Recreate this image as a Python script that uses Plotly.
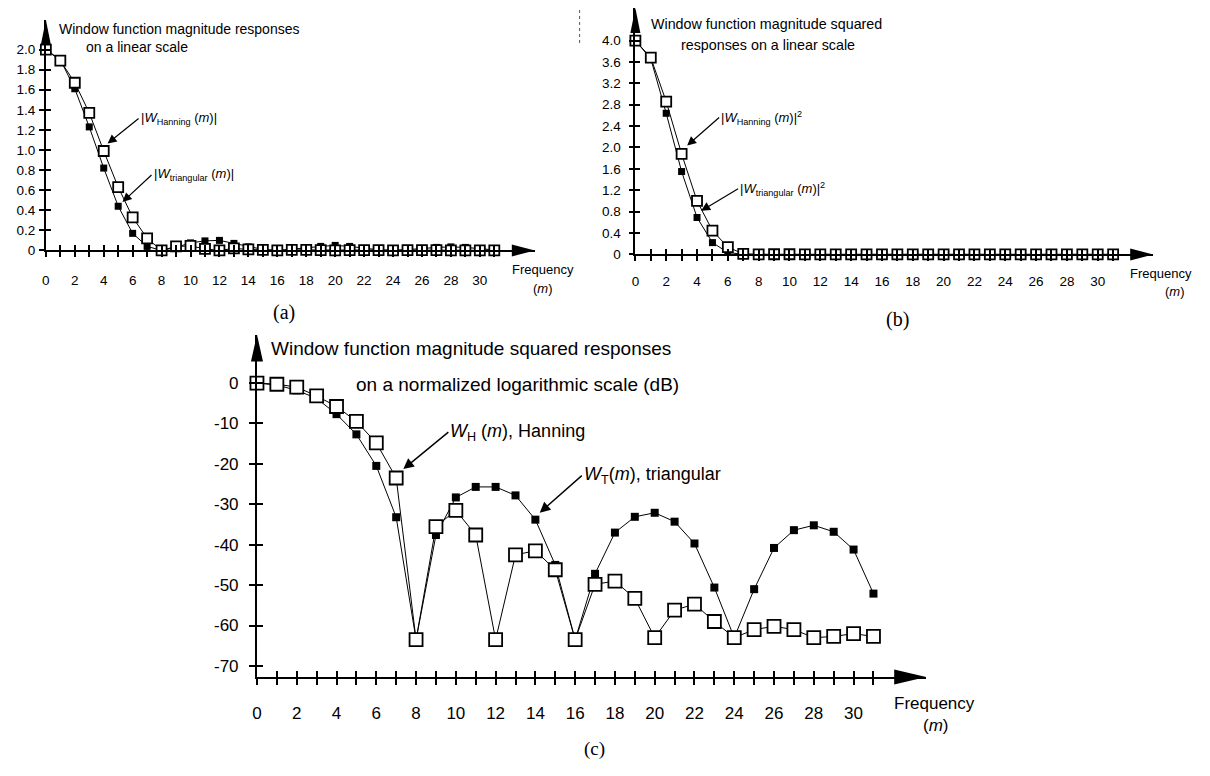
import plotly.graph_objects as go

# ---------------- data ----------------
m = list(range(32))

a_hanning = [2.0, 1.89, 1.67, 1.37, 0.99, 0.63, 0.33, 0.12, 0.0, 0.04, 0.045, 0.015,
             0.0, 0.02, 0.01, 0.005, 0.0, 0.005, 0.005, 0.003, 0.0, 0.003, 0.003, 0.002,
             0.0, 0.002, 0.002, 0.002, 0.0, 0.001, 0.001, 0.001]
a_triangular = [2.0, 1.9, 1.61, 1.23, 0.82, 0.44, 0.17, 0.04, 0.0, 0.03, 0.075, 0.095,
                0.1, 0.07, 0.035, 0.01, 0.0, 0.01, 0.025, 0.04, 0.05, 0.04, 0.02, 0.006,
                0.0, 0.006, 0.018, 0.03, 0.035, 0.03, 0.018, 0.005]

b_hanning = [4.0, 3.68, 2.86, 1.88, 1.0, 0.445, 0.135, 0.01, 0.0, 0.002, 0.002, 0.001,
             0.0, 0.0, 0.0, 0.0, 0.0, 0.0, 0.0, 0.0, 0.0, 0.0, 0.0, 0.0,
             0.0, 0.0, 0.0, 0.0, 0.0, 0.0, 0.0, 0.0]
b_triangular = [4.0, 3.66, 2.64, 1.55, 0.69, 0.22, 0.035, 0.002, 0.0, 0.001, 0.006, 0.009,
                0.01, 0.006, 0.002, 0.0, 0.0, 0.0, 0.001, 0.002, 0.002, 0.002, 0.0, 0.0,
                0.0, 0.0, 0.0, 0.001, 0.001, 0.001, 0.0, 0.0]

c_hanning = [0.0, -0.3, -1.0, -3.2, -5.8, -9.5, -14.8, -23.5, -63.5, -35.5, -31.5, -37.6,
             -63.5, -42.5, -41.5, -46.2, -63.5, -49.8, -49.0, -53.3, -63.0, -56.2, -54.7, -59.0,
             -63.0, -61.0, -60.2, -61.0, -63.0, -62.7, -62.0, -62.7]
c_triangular = [0.0, -0.5, -1.8, -3.8, -7.7, -12.7, -20.5, -33.2, -63.5, -37.6, -28.3, -25.7,
                -25.7, -27.8, -33.8, -45.0, -63.5, -47.2, -37.0, -33.1, -32.1, -34.3, -39.7, -50.6,
                -63.0, -51.0, -40.8, -36.4, -35.2, -36.8, -41.2, -52.1]

x_major_ticks = list(range(0, 32, 2))      # labelled ticks
x_minor_ticks = list(range(1, 32, 2))      # unlabelled ticks
x_all_ticks = list(range(32))

a_ytickvals = [0, 0.2, 0.4, 0.6, 0.8, 1.0, 1.2, 1.4, 1.6, 1.8, 2.0]
a_yticktext = ["0", "0.2", "0.4", "0.6", "0.8", "1.0", "1.2", "1.4", "1.6", "1.8", "2.0"]
b_ytickvals = [0, 0.4, 0.8, 1.2, 1.6, 2.0, 2.4, 2.8, 3.2, 3.6, 4.0]
b_yticktext = ["0", "0.4", "0.8", "1.2", "1.6", "2.0", "2.4", "2.8", "3.2", "3.6", "4.0"]
c_ytickvals = [0, -10, -20, -30, -40, -50, -60, -70]
c_yticktext = ["0", "-10", "-20", "-30", "-40", "-50", "-60", "-70"]

# ---------------- layout helpers ----------------
OFF = 8                      # default page body margin (all four sides)
W, H = 1210 - 2 * OFF, 776 - 2 * OFF
SANS = "Liberation Sans"
SERIF = "Liberation Serif"


def fx(px):
    return min(1.0, max(0.0, (px - OFF) / W))


def fy(py):
    return min(1.0, max(0.0, 1 - (py - OFF) / H))


panels = {
    "a": dict(xd=[fx(41), fx(532)], yd=[fy(253), fy(20)], xr=[0, 33.8], yr=[0, 2.296],
              yv=a_ytickvals, yt=a_yticktext, fs=13.5, tl=5, lw=1.6, ms_o=10, ms_f=7,
              xstand=12, ystand=1),
    "b": dict(xd=[fx(633), fx(1153)], yd=[fy(257), fy(8)], xr=[0, 33.6], yr=[0, 4.61],
              yv=b_ytickvals, yt=b_yticktext, fs=13.5, tl=5, lw=1.6, ms_o=10, ms_f=7,
              xstand=9, ystand=5),
    "c": dict(xd=[fx(253), fx(925)], yd=[fy(684), fy(338)], xr=[0, 33.65], yr=[-72.7, 12.0],
              yv=c_ytickvals, yt=c_yticktext, fs=17, tl=6, lw=2, ms_o=13, ms_f=8,
              xstand=14, ystand=7),
}
series = {"a": (a_hanning, a_triangular), "b": (b_hanning, b_triangular),
          "c": (c_hanning, c_triangular)}

fig = go.Figure()
layout = dict(width=W, height=H, margin=dict(l=0, r=0, t=0, b=0),
              paper_bgcolor="white", plot_bgcolor="rgba(0,0,0,0)", showlegend=False)
shapes = []

for i, key in enumerate(["a", "b", "c"]):
    p = panels[key]
    n = i + 1
    ov = i + 4
    xs = "" if n == 1 else str(n)
    han, tri = series[key]
    # triangular (filled squares)
    fig.add_trace(go.Scatter(x=m, y=tri, mode="lines+markers", xaxis="x" + xs, yaxis="y" + xs,
                             line=dict(color="black", width=1),
                             marker=dict(symbol="square", size=p["ms_f"], color="black"),
                             cliponaxis=False, hoverinfo="skip"))
    # Hanning (open squares)
    fig.add_trace(go.Scatter(x=m, y=han, mode="lines+markers", xaxis="x" + xs, yaxis="y" + xs,
                             line=dict(color="black", width=1),
                             marker=dict(symbol="square", size=p["ms_o"], color="white",
                                         line=dict(color="black", width=1.8)),
                             cliponaxis=False, hoverinfo="skip"))
    # overlay subplot carrying the inward half of the crossing tick marks
    fig.add_trace(go.Scatter(x=[], y=[], xaxis="x%d" % ov, yaxis="y%d" % ov, hoverinfo="skip"))

    common = dict(showgrid=False, zeroline=False, tickcolor="black", tickwidth=1.5,
                  ticklen=p["tl"], tickmode="array")
    layout["xaxis" + xs] = dict(domain=p["xd"], range=p["xr"], anchor="y" + xs, showline=True,
                                linecolor="black", linewidth=p["lw"], ticks="outside",
                                tickvals=x_major_ticks,
                                minor=dict(tickmode="array", tickvals=x_minor_ticks,
                                           ticks="outside", ticklen=p["tl"], tickwidth=1.5,
                                           tickcolor="black", showgrid=False),
                                tickfont=dict(family=SANS, size=p["fs"], color="black"),
                                ticklabelstandoff=p["xstand"], **common)
    layout["yaxis" + xs] = dict(domain=p["yd"], range=p["yr"], anchor="x" + xs, showline=True,
                                linecolor="black", linewidth=p["lw"], ticks="outside",
                                tickvals=p["yv"], ticktext=p["yt"],
                                tickfont=dict(family=SANS, size=p["fs"], color="black"),
                                ticklabelstandoff=p["ystand"], **common)
    layout["xaxis%d" % ov] = dict(overlaying="x" + xs, range=p["xr"], anchor="y%d" % ov,
                                  showline=False, ticks="inside", tickvals=x_all_ticks,
                                  showticklabels=False, **common)
    layout["yaxis%d" % ov] = dict(overlaying="y" + xs, range=p["yr"], anchor="x%d" % ov,
                                  showline=False, ticks="inside", tickvals=p["yv"],
                                  showticklabels=False, **common)

# axis arrowheads
arrow_dims = {"a": ((23, 6), (25, 5)), "b": ((23, 6), (25, 5)), "c": ((32, 7.5), (27, 6))}
for key in ["a", "b", "c"]:
    p = panels[key]
    (xl, xw), (yl, yw) = arrow_dims[key]
    shapes.append(dict(type="path", xref="paper", yref="paper", xsizemode="pixel",
                       ysizemode="pixel", xanchor=p["xd"][1], yanchor=p["yd"][0],
                       path="M0,0 L%g,%g L%g,%g Z" % (-xl, xw, -xl, -xw),
                       fillcolor="black", line=dict(width=0)))
    shapes.append(dict(type="path", xref="paper", yref="paper", xsizemode="pixel",
                       ysizemode="pixel", xanchor=p["xd"][0], yanchor=p["yd"][1],
                       path="M0,0 L%g,%g L%g,%g Z" % (-yw, -yl, yw, -yl),
                       fillcolor="black", line=dict(width=0)))

# small scan artefact (dotted mark)
shapes.append(dict(type="line", xref="paper", yref="paper", x0=fx(577), x1=fx(577),
                   y0=fy(10), y1=fy(45), line=dict(color="#555", width=1, dash="dot")))

layout["shapes"] = shapes

ann = []
PAD = 3


def text(px, py, s, size, anchor="left", family=SANS):
    x = px - PAD if anchor == "left" else px
    ann.append(dict(x=fx(x), y=fy(py), xref="paper", yref="paper", text=s, showarrow=False,
                    xanchor=anchor, yanchor="middle", align=anchor,
                    font=dict(family=family, size=size, color="black")))


def label_arrow(tip, tail, s, size, width=1.2):
    # text box left-middle sits at the arrow tail
    ann.append(dict(x=fx(tip[0]), y=fy(tip[1]), xref="paper", yref="paper", text=s,
                    showarrow=True, ax=tail[0] - tip[0] - PAD, ay=tail[1] - tip[1],
                    xanchor="left", yanchor="middle", align="left",
                    arrowhead=2, arrowsize=1.5, arrowwidth=width, arrowcolor="black",
                    font=dict(family=SANS, size=size, color="black")))


# panel (a)
text(55, 29, "Window function magnitude responses", 14)
text(82, 47, "on a linear scale", 14)
label_arrow((103, 145), (137, 120), "|<i>W</i><sub>Hanning</sub> (<i>m</i>)|", 13)
label_arrow((118, 204), (150, 177), "|<i>W</i><sub>triangular</sub> (<i>m</i>)|", 13)
text(540, 272, "Frequency", 13, "center")
text(540, 291, "(<i>m</i>)", 13, "center")
text(280, 316, "(a)", 20, "center", SERIF)

# panel (b)
text(650, 24, "Window function magnitude squared", 14.3)
text(680, 45, "responses on a linear scale", 14.3)
label_arrow((685, 147), (720, 119), "|<i>W</i><sub>Hanning</sub> (<i>m</i>)|<sup>2</sup>", 13)
label_arrow((699, 213), (739, 191), "|<i>W</i><sub>triangular</sub> (<i>m</i>)|<sup>2</sup>", 13)
text(1161, 276, "Frequency", 13, "center")
text(1175, 295, "(<i>m</i>)", 13, "center")
text(896, 323, "(b)", 20, "center", SERIF)

# panel (c)
text(268, 352, "Window function magnitude squared responses", 19)
text(353, 388, "on a normalized logarithmic scale (dB)", 19)
label_arrow((400, 474), (448, 437), "<i>W</i><sub>H</sub> (<i>m</i>), Hanning", 18, 1.4)
label_arrow((537, 518), (582, 481), "<i>W</i><sub>T</sub>(<i>m</i>), triangular", 18, 1.4)
text(933, 711, "Frequency", 17, "center")
text(935, 733, "(<i>m</i>)", 17, "center")
text(592, 757, "(c)", 19, "center", SERIF)

layout["annotations"] = ann
fig.update_layout(**layout)
fig.write_html("out.html")
